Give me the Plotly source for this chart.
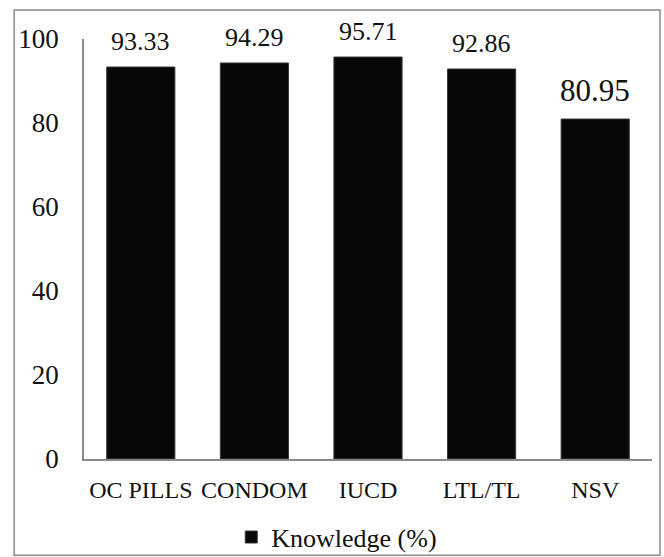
import plotly.graph_objects as go

methods = ["OC PILLS", "CONDOM", "IUCD", "LTL/TL", "NSV"]
knowledge = [93.33, 94.29, 95.71, 92.86, 80.95]
label_sizes = [26, 26, 26, 26, 31]
y_ticks = [0, 20, 40, 60, 80, 100]

FONT = "'Liberation Serif', 'Times New Roman', serif"

fig = go.Figure()
fig.add_trace(go.Bar(
    x=methods,
    y=knowledge,
    name="Knowledge (%)",
    marker=dict(color="#070707", line=dict(color="#3a3a3a", width=1)),
    width=0.6,
))

# value labels sit a little above each bar
for m, v, s in zip(methods, knowledge, label_sizes):
    fig.add_annotation(
        x=m, y=v, text=f"{v:.2f}", showarrow=False,
        yanchor="bottom", yshift=9,
        font=dict(family=FONT, size=s, color="#111"),
    )

fig.update_layout(
    width=664, height=557,
    margin=dict(l=84, r=12, t=39, b=98, autoexpand=False),
    paper_bgcolor="white",
    plot_bgcolor="white",
    font=dict(family=FONT, size=22, color="#111"),
    showlegend=True,
    legend=dict(
        orientation="h", x=0.445, xanchor="center", y=-0.186, yanchor="middle",
        font=dict(family=FONT, size=26, color="#111"),
        bgcolor="rgba(0,0,0,0)",
        itemwidth=30,
    ),
    xaxis=dict(
        showline=True, linecolor="#8a8a8a", linewidth=1.5,
        ticks="outside", ticklen=8, tickcolor="rgba(0,0,0,0)",
        tickfont=dict(family=FONT, size=24),
        showgrid=False,
    ),
    yaxis=dict(
        range=[0, 100], tickvals=y_ticks,
        showline=True, linecolor="#8a8a8a", linewidth=1.5,
        ticks="outside", ticklen=18, tickcolor="rgba(0,0,0,0)",
        tickfont=dict(family=FONT, size=27),
        showgrid=False, zeroline=False,
    ),
    shapes=[dict(
        type="rect", xref="paper", yref="paper",
        x0=-0.123, x1=1.014, y0=-0.229, y1=1.069,
        line=dict(color="#8a8a8a", width=1.5), fillcolor="rgba(0,0,0,0)",
        layer="below",
    )],
)

fig.write_html("out.html")
